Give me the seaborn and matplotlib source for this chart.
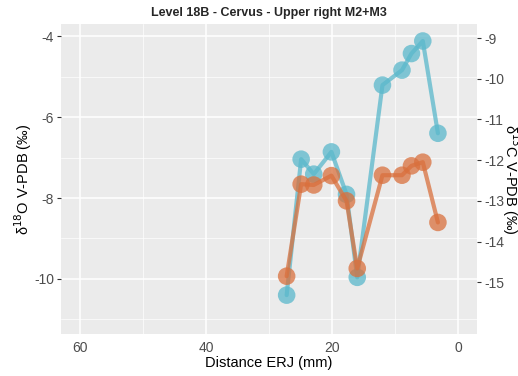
import matplotlib
matplotlib.use("Agg")
import matplotlib.pyplot as plt
import seaborn as sns
import pandas as pd
import numpy as np
from matplotlib.ticker import MultipleLocator

distance = [27.2, 24.9, 22.9, 20.1, 17.7, 16.0, 12.0, 8.9, 7.4, 5.6, 3.2]
d18O = [-10.40, -7.04, -7.41, -6.86, -7.91, -9.96, -5.21, -4.84, -4.43, -4.12, -6.40]
d13C = [-14.85, -12.59, -12.61, -12.38, -13.00, -14.66, -12.37, -12.37, -12.14, -12.05, -13.53]

x_ticks = [60, 40, 20, 0]
left_ticks = [-4, -6, -8, -10]
right_ticks = [-9, -10, -11, -12, -13, -14, -15]

df = pd.DataFrame({"distance": distance, "d18O": d18O, "d13C": d13C})

sns.set_style("white")
plt.rcParams['font.family'] = ['Liberation Sans', 'DejaVu Sans']

fig = plt.figure(figsize=(5.18, 3.76), dpi=100)
W, H = 518, 376
ax = fig.add_axes([61 / W, 1 - 334 / H, (477 - 61) / W, (334 - 24) / H])
ax2 = ax.twinx()

blue = "#5AB8CB"
orange = "#D9703D"
grey = "#4D4D4D"

ax.set_facecolor("#EBEBEB")
for a in (ax, ax2):
    for s in a.spines.values():
        s.set_visible(False)

ax.set_xlim(63, -3)
ax.set_ylim(-11.36, -3.70)
ax2.set_ylim(-16.27, -8.656)

ax.set_xticks(x_ticks)
ax.xaxis.set_minor_locator(MultipleLocator(10))
ax.set_yticks(left_ticks)
ax.yaxis.set_minor_locator(MultipleLocator(1))
ax2.set_yticks(right_ticks)

ax.grid(which="major", color="white", linewidth=1.1)
ax.grid(which="minor", color="white", linewidth=0.5)
ax.set_axisbelow(True)

sns.lineplot(data=df, x="distance", y="d18O", ax=ax, color=blue, linewidth=3,
             alpha=0.75, sort=False, zorder=3)
sns.scatterplot(data=df, x="distance", y="d18O", ax=ax, color=blue, s=160,
                alpha=0.75, edgecolor="none", zorder=4)
sns.lineplot(data=df, x="distance", y="d13C", ax=ax2, color=orange, linewidth=3,
             alpha=0.75, sort=False, zorder=3)
sns.scatterplot(data=df, x="distance", y="d13C", ax=ax2, color=orange, s=160,
                alpha=0.75, edgecolor="none", zorder=4)

ax.set_xticklabels([str(v) for v in x_ticks])
ax.set_yticklabels([str(v) for v in left_ticks])
ax2.set_yticklabels([str(v) for v in right_ticks])

for a in (ax, ax2):
    a.tick_params(axis="both", which="major", length=3, width=0.8, color="#333333",
                  labelsize=10, labelcolor=grey, pad=2)
    a.tick_params(axis="both", which="minor", length=0)

ax.set_xlabel("Distance ERJ (mm)", fontsize=10.5, color="black", labelpad=1)
ax.set_ylabel("δ$^{18}$O V-PDB (‰)", fontsize=10.5, color="black", labelpad=0)
ax2.set_ylabel("δ$^{13}$C V-PDB (‰)", fontsize=10.5, color="black",
               rotation=-90, labelpad=13)
ax.set_title("Level 18B - Cervus - Upper right M2+M3", fontsize=9, fontweight="bold",
             pad=6)

fig.savefig("out.png", dpi=100)
